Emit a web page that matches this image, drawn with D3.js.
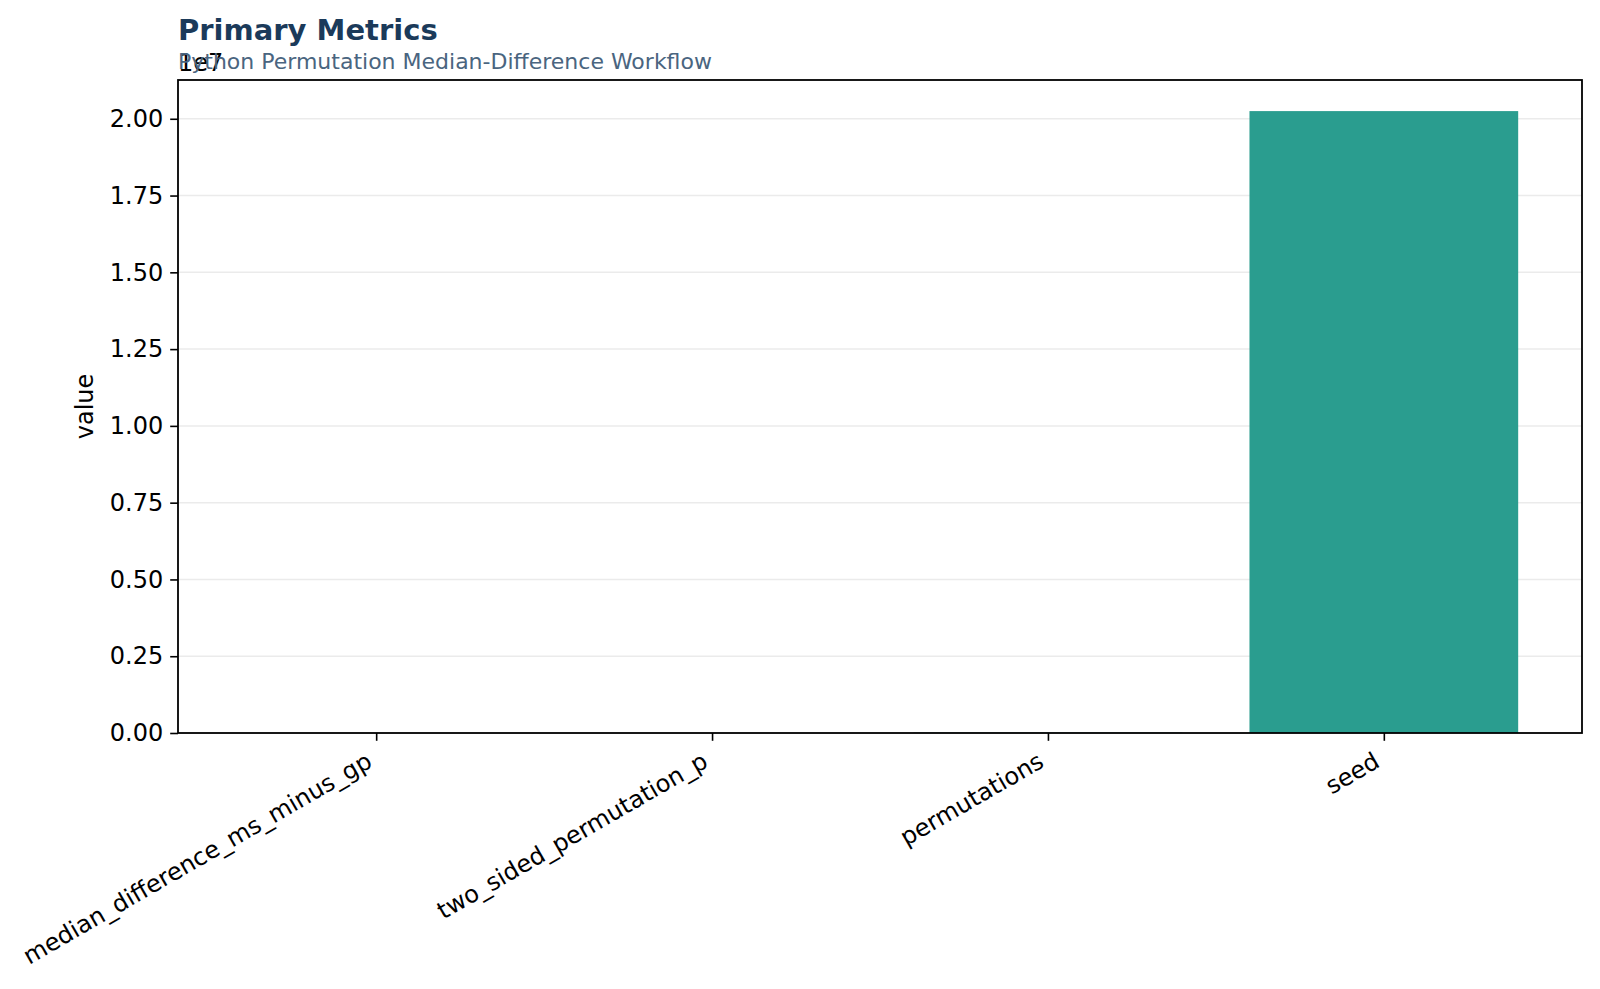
<!DOCTYPE html>
<html>
<head>
<meta charset="utf-8">
<script src="https://cdn.jsdelivr.net/npm/d3@7"></script>
<style>
  body { margin: 0; background: #fff; }
  text { font-family: "DejaVu Sans", sans-serif; }
</style>
</head>
<body>
<svg id="chart" width="1600" height="989"></svg>
<script>
// data
var metrics = ['median_difference_ms_minus_gp', 'two_sided_permutation_p', 'permutations', 'seed']
var values = [-1.5, 0.034, 10000, 20250101]
var yTicks = [0, 0.25e7, 0.5e7, 0.75e7, 1e7, 1.25e7, 1.5e7, 1.75e7, 2e7]

var plotL = 178, plotR = 1582, plotT = 80, plotB = 733
var svg = d3.select('#chart')

var n = metrics.length
// bar axis like matplotlib: bars 0.8 wide, 5% margins
var x = d3.scaleLinear()
    .domain([-0.4 - 0.19, n - 1 + 0.4 + 0.19])
    .range([plotL, plotR])

var yMax = d3.max(values) * 1.05
var y = d3.scaleLinear()
    .domain([0, yMax])
    .range([plotB, plotT])

// grid
svg.append('g')
  .selectAll('line')
  .data(yTicks)
  .join('line')
    .attr('x1', plotL)
    .attr('x2', plotR)
    .attr('y1', d => y(d))
    .attr('y2', d => y(d))
    .attr('stroke', '#ebebeb')
    .attr('stroke-width', 1.5)

// bars
svg.append('g')
  .selectAll('rect')
  .data(values)
  .join('rect')
    .attr('x', (d, i) => x(i - 0.4))
    .attr('width', (d, i) => x(i + 0.4) - x(i - 0.4))
    .attr('y', d => y(Math.max(0, d)))
    .attr('height', d => Math.abs(y(d) - y(0)))
    .attr('fill', '#2a9d8f')

// y axis
var yAxis = d3.axisLeft(y)
    .tickValues(yTicks)
    .tickFormat(d => (d / 1e7).toFixed(2))
    .tickSize(7.8)
    .tickPadding(7)
var gy = svg.append('g')
    .attr('transform', `translate(${plotL},0)`)
    .call(yAxis)
gy.select('.domain').remove()
gy.selectAll('line').attr('stroke', '#000').attr('stroke-width', 1.6)
gy.selectAll('text')
    .attr('font-size', 24)
    .attr('fill', '#000')
    .attr('font-family', 'DejaVu Sans')

// x axis
var xAxis = d3.axisBottom(x)
    .tickValues(d3.range(n))
    .tickFormat(i => metrics[i])
    .tickSize(7.8)
    .tickPadding(0)
var gx = svg.append('g')
    .attr('transform', `translate(0,${plotB})`)
    .call(xAxis)
gx.select('.domain').remove()
gx.selectAll('line').attr('stroke', '#000').attr('stroke-width', 1.6)
gx.selectAll('text')
    .attr('font-size', 24)
    .attr('fill', '#000')
    .attr('font-family', 'DejaVu Sans')
    .attr('text-anchor', 'end')
    .attr('dy', null)
    .attr('y', 0)
    .attr('transform', 'translate(-3,33) rotate(-30)')

// frame
svg.append('rect')
    .attr('x', plotL)
    .attr('y', plotT)
    .attr('width', plotR - plotL)
    .attr('height', plotB - plotT)
    .attr('fill', 'none')
    .attr('stroke', '#000')
    .attr('stroke-width', 1.8)

// labels
svg.append('text')
    .text('value')
    .attr('transform', `translate(93,${(plotT + plotB) / 2}) rotate(-90)`)
    .attr('text-anchor', 'middle')
    .attr('font-size', 24)
    .attr('fill', '#000')

svg.append('text')
    .text('1e7')
    .attr('x', plotL)
    .attr('y', 71)
    .attr('font-size', 24)
    .attr('fill', '#000')

svg.append('text')
    .text('Primary Metrics')
    .attr('x', plotL)
    .attr('y', 40)
    .attr('font-size', 29)
    .attr('font-weight', 'bold')
    .attr('fill', '#1b3a5a')

svg.append('text')
    .text('Python Permutation Median-Difference Workflow')
    .attr('x', plotL)
    .attr('y', 69)
    .attr('font-size', 22)
    .attr('fill', '#4a6580')
</script>
</body>
</html>
